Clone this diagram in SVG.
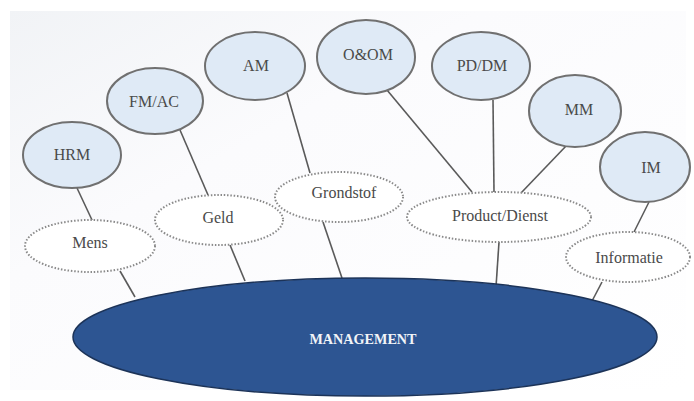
<svg xmlns="http://www.w3.org/2000/svg" width="694" height="401" viewBox="0 0 694 401">
  <defs>
    <linearGradient id="paper" x1="0" y1="0" x2="1" y2="1">
      <stop offset="0" stop-color="#f1f3f6"/>
      <stop offset="0.35" stop-color="#fbfbfd"/>
      <stop offset="1" stop-color="#ffffff"/>
    </linearGradient>
    <style>
      .dept { fill: #dfeaf6; stroke: #707070; stroke-width: 2; }
      .res { fill: #ffffff; stroke: #8a8a8a; stroke-width: 2; stroke-dasharray: 1.5 1.8; }
      .link { stroke: #5a5a5a; stroke-width: 1.6; fill: none; }
      .lbl { font-family: "Liberation Serif", "DejaVu Serif", serif; font-size: 16px; fill: #4a4a4a; text-anchor: middle; }
      .core { fill: #2d5592; stroke: #1c3358; stroke-width: 1.5; }
      .core-lbl { font-family: "Liberation Serif", "DejaVu Serif", serif; font-size: 15px; font-weight: bold; fill: #f2f4f8; text-anchor: middle; }
    </style>
  </defs>

  <!-- page -->
  <rect x="0" y="0" width="694" height="401" fill="#ffffff"/>
  <rect x="10" y="11" width="676" height="379" fill="url(#paper)"/>

  <!-- connectors -->
  <g id="connectors">
    <line class="link" x1="77" y1="188" x2="92" y2="220"/>
    <line class="link" x1="120" y1="271" x2="135" y2="297"/>
    <line class="link" x1="180" y1="130" x2="208" y2="195"/>
    <line class="link" x1="230" y1="245" x2="245" y2="281"/>
    <line class="link" x1="287" y1="93" x2="310" y2="173"/>
    <line class="link" x1="323" y1="222" x2="342" y2="278"/>
    <line class="link" x1="387" y1="90" x2="472" y2="192"/>
    <line class="link" x1="493" y1="100" x2="494" y2="192"/>
    <line class="link" x1="567" y1="145" x2="521" y2="193"/>
    <line class="link" x1="499" y1="242" x2="496" y2="287"/>
    <line class="link" x1="649" y1="202" x2="634" y2="232"/>
    <line class="link" x1="602" y1="282" x2="591" y2="303"/>
  </g>

  <!-- central node -->
  <g id="management">
    <ellipse class="core" cx="365" cy="337" rx="292" ry="59"/>
    <text class="core-lbl" x="363" y="344" textLength="107" lengthAdjust="spacingAndGlyphs">MANAGEMENT</text>
  </g>

  <!-- resources -->
  <g id="mens">
    <ellipse class="res" cx="90" cy="246" rx="65" ry="26"/>
    <text class="lbl" x="90" y="248">Mens</text>
  </g>
  <g id="geld">
    <ellipse class="res" cx="219" cy="220" rx="64" ry="25"/>
    <text class="lbl" x="218" y="223">Geld</text>
  </g>
  <g id="grondstof">
    <ellipse class="res" cx="339" cy="197" rx="64" ry="25"/>
    <text class="lbl" x="344" y="198">Grondstof</text>
  </g>
  <g id="product-dienst">
    <ellipse class="res" cx="499" cy="217" rx="92" ry="25"/>
    <text class="lbl" x="500" y="221">Product/Dienst</text>
  </g>
  <g id="informatie">
    <ellipse class="res" cx="628" cy="257" rx="62" ry="25"/>
    <text class="lbl" x="629" y="263">Informatie</text>
  </g>

  <!-- management disciplines -->
  <g id="hrm">
    <ellipse class="dept" cx="72" cy="155" rx="49" ry="33"/>
    <text class="lbl" x="72" y="160">HRM</text>
  </g>
  <g id="fm-ac">
    <ellipse class="dept" cx="155" cy="101" rx="48" ry="33"/>
    <text class="lbl" x="154" y="107">FM/AC</text>
  </g>
  <g id="am">
    <ellipse class="dept" cx="255" cy="66" rx="50" ry="34"/>
    <text class="lbl" x="256" y="71">AM</text>
  </g>
  <g id="o-om">
    <ellipse class="dept" cx="366" cy="57" rx="49" ry="37"/>
    <text class="lbl" x="368" y="60">O&amp;OM</text>
  </g>
  <g id="pd-dm">
    <ellipse class="dept" cx="481" cy="66" rx="49" ry="34"/>
    <text class="lbl" x="482" y="71">PD/DM</text>
  </g>
  <g id="mm">
    <ellipse class="dept" cx="575" cy="111" rx="46" ry="36"/>
    <text class="lbl" x="579" y="115">MM</text>
  </g>
  <g id="im">
    <ellipse class="dept" cx="645" cy="167" rx="45" ry="35"/>
    <text class="lbl" x="651" y="173">IM</text>
  </g>
</svg>
